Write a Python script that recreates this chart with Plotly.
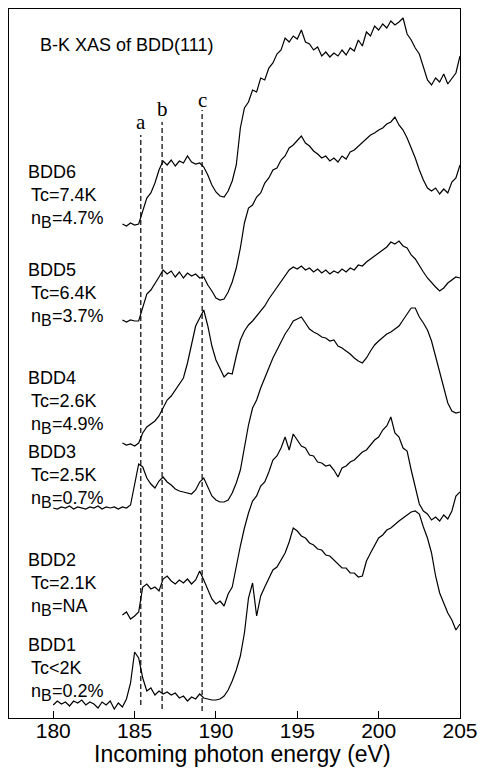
import numpy as np
import plotly.graph_objects as go

# Energy grids (eV)
E_short = np.round(np.arange(184.25, 205.001, 0.25), 2)
E_long = np.round(np.arange(180.0, 205.001, 0.25), 2)

# Intensities (arb. units, vertically offset stacks)
bdd6 = [494, 492, 495,
        493, 494, 508, 520,
        525, 535, 548, 557,
        553, 558, 552, 557,
        555, 562, 556, 554,
        555, 551, 543, 533,
        526, 522, 521, 527,
        537, 553, 590, 610,
        616, 628, 626, 640,
        638, 650, 655, 664,
        668, 680, 676, 682,
        679, 688, 676, 674,
        668, 671, 662, 666,
        661, 665, 662, 668,
        663, 670, 667, 678,
        672, 686, 682, 692,
        688, 694, 690, 697,
        693, 696, 700, 684,
        678, 670, 664, 650,
        638, 633, 640, 636,
        644, 634, 640, 645,
        662]

bdd5 = [398, 396, 398,
        397, 397, 410, 424,
        428, 434, 441, 448,
        444, 447, 441, 446,
        440, 445, 442, 444,
        440, 441, 433, 427,
        420, 418, 419, 426,
        436, 450, 470, 495,
        510, 513, 521, 525,
        535, 540, 548, 550,
        558, 562, 570, 573,
        578, 582, 575, 572,
        567, 564, 560, 562,
        557, 560, 556, 562,
        559, 566, 568, 572,
        576, 580, 583, 585,
        588, 590, 594, 596,
        601, 593, 588, 580,
        570, 560, 548, 538,
        530, 527, 530, 524,
        529, 525, 536, 540,
        553]

bdd4 = [275, 273, 274,
        272, 275, 285, 291,
        294, 297, 302, 310,
        318, 322, 328, 334,
        340, 355, 375, 392,
        400, 408, 392, 372,
        358, 350, 341, 345,
        344, 362, 378, 387,
        393, 397, 402, 406,
        412, 419, 425, 431,
        437, 443, 448, 451,
        449, 452, 448, 450,
        446, 449, 445, 448,
        444, 447, 445, 449,
        446, 450, 448, 453,
        452, 456, 459, 462,
        465, 468, 471, 476,
        474, 477, 472, 470,
        463, 459, 452, 446,
        440, 435, 431, 427,
        430, 435, 438, 441,
        440]

bdd3 = [210, 209, 211, 210,
        212, 209, 211, 210,
        209, 211, 210, 212,
        209, 211, 210, 211,
        209, 211, 210, 213,
        232, 254, 251, 240,
        234, 230, 237, 241,
        236, 233, 229, 227,
        226, 225, 224, 228,
        236, 240, 230, 222,
        218, 216, 216, 218,
        225, 235, 248, 270,
        293, 310, 318, 330,
        341, 350, 360, 368,
        376, 384, 390, 397,
        399, 401, 395, 389,
        386, 384, 381, 380,
        377, 378, 372, 370,
        367, 364, 360, 357,
        355, 360, 367, 373,
        377, 381, 384, 386,
        389, 392, 398, 404,
        410, 410, 401, 395,
        388, 377, 362, 345,
        330, 315, 307, 305,
        306]

bdd2 = [103, 106, 99,
        102, 106, 131, 134,
        129, 131, 127, 139,
        142, 137, 134, 138,
        135, 139, 134, 138,
        147, 138, 128, 119,
        114, 117, 112, 124,
        131, 152, 172, 190,
        205, 217, 222, 232,
        236, 246, 258, 262,
        270, 281, 268, 284,
        278, 272, 270, 263,
        262, 256, 255, 252,
        253, 248, 241, 250,
        252, 256, 258, 262,
        266, 268, 273, 278,
        281, 288, 292, 301,
        285, 281, 270, 267,
        248, 232, 214, 207,
        204, 198, 201, 197,
        203, 199, 207, 222,
        226]

bdd1 = [13, 17, 14, 16,
        12, 17, 15, 18,
        13, 16, 14, 10,
        16, 13, 17, 9,
        15, 11, 19, 35,
        66, 60, 40, 27,
        30, 23, 27, 24,
        26, 23, 25, 20,
        22, 17, 21, 19,
        24, 20, 19, 18,
        18, 19, 22, 28,
        37, 48, 62, 85,
        120, 135, 102, 122,
        131, 140, 148, 151,
        158, 165, 176, 190,
        187, 182, 180, 175,
        173, 169, 168, 163,
        162, 158, 155, 150,
        150, 145, 145, 141,
        142, 157, 165, 172,
        180, 183, 188, 190,
        194, 197, 200, 203,
        206, 207, 204, 191,
        180, 165, 142, 125,
        115, 105, 98, 88,
        94]

series = [("BDD6", E_short, bdd6), ("BDD5", E_short, bdd5), ("BDD4", E_short, bdd4),
          ("BDD3", E_long, bdd3), ("BDD2", E_short, bdd2), ("BDD1", E_long, bdd1)]

# Sample labels
sample_names = ["BDD6", "BDD5", "BDD4", "BDD3", "BDD2", "BDD1"]
tc_labels = ["Tc=7.4K", "Tc=6.4K", "Tc=2.6K", "Tc=2.5K", "Tc=2.1K", "Tc<2K"]
nb_values = ["4.7%", "3.7%", "4.9%", "0.7%", "NA", "0.2%"]
label_levels = [546, 448, 340, 266, 158, 73]

# Feature markers a, b, c
feature_names = ["a", "b", "c"]
feature_energies = [185.38, 186.69, 189.15]
feature_tops = [583, 596, 608]
feature_bottoms = [13, 9, 7]
feature_label_levels = [596, 609, 618]

x_ticks = [180, 185, 190, 195, 200, 205]

fig = go.Figure()
for name, E, vals in series:
    fig.add_trace(go.Scatter(x=E, y=vals, mode="lines", name=name,
                             line=dict(color="black", width=1.2),
                             showlegend=False, hoverinfo="skip"))

for e, top, bot in zip(feature_energies, feature_tops, feature_bottoms):
    fig.add_trace(go.Scatter(x=[e, e], y=[bot, top], mode="lines",
                             line=dict(color="black", width=1.2, dash="5px,3px"),
                             showlegend=False, hoverinfo="skip"))

FONT = "Liberation Sans, Arial, Helvetica, sans-serif"


def label(x, y, text, size=18, xshift=0, yshift=0):
    return dict(x=x, y=y, text=text, xref="x", yref="y", showarrow=False,
                xanchor="left", yanchor="middle", xshift=xshift, yshift=yshift,
                font=dict(family=FONT, size=size, color="black"))


ann = []
for nm, tc, nb, lv in zip(sample_names, tc_labels, nb_values, label_levels):
    ann.append(label(178.32, lv, nm))
    ann.append(label(178.51, lv - 23, tc))
    ann.append(label(178.51, lv - 46, "n"))
    ann.append(label(178.51, lv - 46, "B", size=16, xshift=10, yshift=-4))
    ann.append(label(178.51, lv - 46, "=" + nb, xshift=20.5))

for nm, e, lv in zip(feature_names, feature_energies, feature_label_levels):
    ann.append(dict(x=e, y=lv, text=nm, xref="x", yref="y", showarrow=False,
                    xanchor="center", yanchor="middle",
                    font=dict(family="Liberation Serif, Times New Roman, serif", size=21, color="black")))

ann.append(label(179.06, 673, "B-K XAS of BDD(111)"))
ann.append(dict(x=191.63, y=-0.051, text="Incoming photon energy (eV)", xref="x", yref="paper",
                showarrow=False, xanchor="center", yanchor="middle",
                font=dict(family=FONT, size=23, color="black")))

fig.update_layout(
    width=482, height=771,
    margin=dict(l=9, r=22, t=9, b=53),
    paper_bgcolor="white", plot_bgcolor="white",
    annotations=ann,
    xaxis=dict(range=[177.28, 205], tickvals=x_ticks, ticktext=[str(t) for t in x_ticks],
               ticks="inside", ticklen=7, tickwidth=1, tickcolor="black",
               ticklabelstandoff=-6,
               showline=True, linecolor="black", linewidth=1, mirror=True,
               showgrid=False, zeroline=False, automargin=False,
               tickfont=dict(family=FONT, size=21, color="black")),
    yaxis=dict(range=[0, 709], showticklabels=False, ticks="",
               showline=True, linecolor="black", linewidth=1, mirror=True,
               showgrid=False, zeroline=False, automargin=False),
)

# Remove the browser's default 8px body margin so the figure fills the window exactly.
fig.write_html("out.html", config={"displayModeBar": False},
               post_script="document.body.style.margin='0px';")
